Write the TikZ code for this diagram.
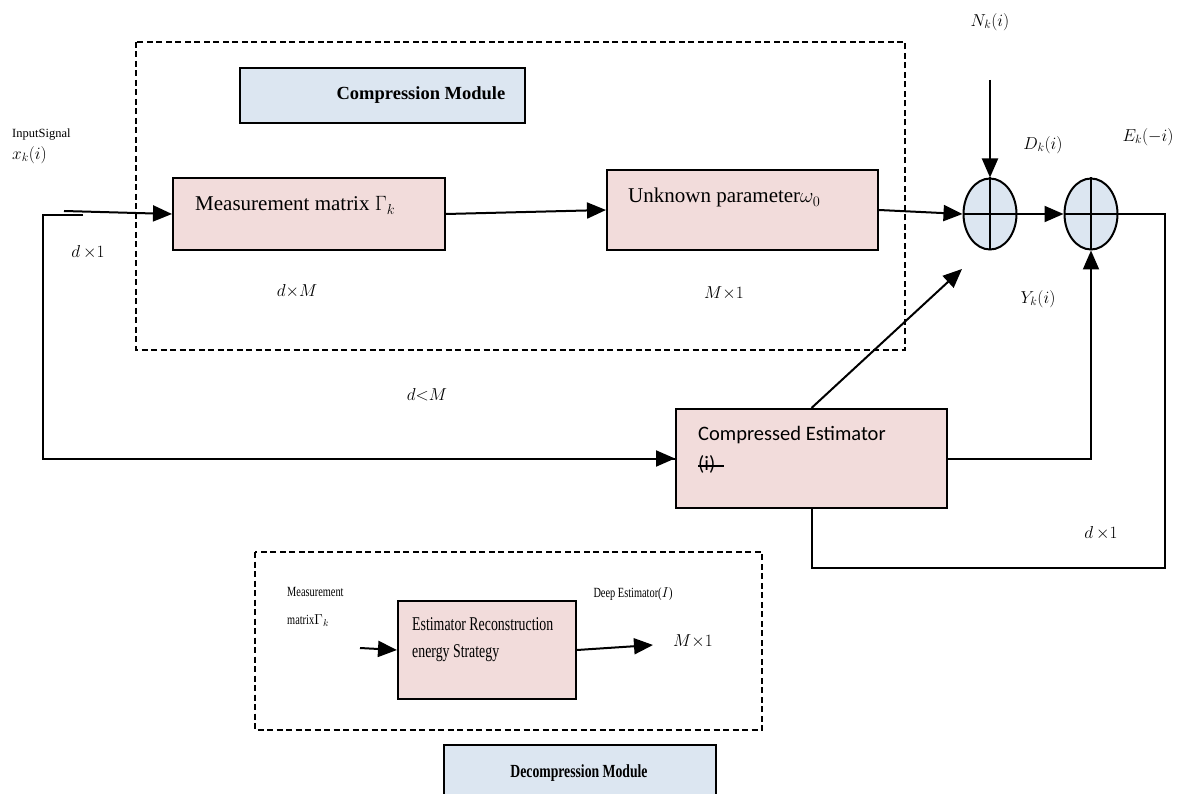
\documentclass[tikz,border=0pt]{standalone}
\usepackage{fontspec}
\setmainfont{Liberation Serif}
\newfontfamily\calibri{Carlito}
\newfontfamily\narrow[FakeStretch=0.78]{Liberation Serif}
\newfontfamily\narrowB[FakeStretch=0.71]{Liberation Serif}
\newfontfamily\narrowC[FakeStretch=0.74]{Liberation Serif}
\usetikzlibrary{arrows.meta,shapes.geometric}
\definecolor{pinkfill}{HTML}{F2DCDB}
\definecolor{bluefill}{HTML}{DCE6F1}
\tikzset{
  blockbox/.style={draw, line width=2pt, fill=pinkfill, inner sep=0pt},
  titlebox/.style={draw, line width=2pt, fill=bluefill, inner sep=0pt},
  summer/.style={draw, ellipse, line width=2pt, fill=bluefill, minimum width=53pt, minimum height=71pt, inner sep=0pt},
  modulebox/.style={draw, line width=1.8pt, dash pattern=on 6pt off 3.5pt},
  conn/.style={line width=2pt},
  arr/.style={line width=2pt, -{Triangle[length=19pt,width=16pt]}},
  lbl/.style={inner sep=0pt, font=\fontsize{16.5}{18}\selectfont},
  txt/.style={inner sep=0pt, anchor=base west}
}
\begin{document}
\begin{tikzpicture}[x=1pt,y=-1pt]
\useasboundingbox (0,0) rectangle (1179,794);
% module frames
\draw[modulebox] (136,42) rectangle (905,350);
\draw[modulebox] (255,552) rectangle (762,730);
% title boxes
\node[titlebox, minimum width=285pt, minimum height=55pt] (cmbox) at (382.5,95.5) {};
\node[txt, anchor=base, font=\fontsize{18.5}{20}\selectfont\bfseries] (cmtxt) at (421,100) {Compression Module};
\begin{scope}
\clip (0,0) rectangle (1179,794);
\node[titlebox, minimum width=272pt, minimum height=70pt] (dmbox) at (580,780) {};
\end{scope}
\node[txt, anchor=base, font=\fontsize{18.5}{20}\narrowC\bfseries] (dmtxt) at (579,777) {Decompression Module};
% blocks
\node[blockbox, minimum width=272pt, minimum height=72pt] (mm) at (309,214) {};
\node[txt, font=\fontsize{21}{24}\selectfont] (mmtxt) at (195,211) {Measurement matrix $\Gamma_{k}$};
\node[blockbox, minimum width=271pt, minimum height=80pt] (up) at (742.5,210) {};
\node[txt, font=\fontsize{21}{24}\selectfont] (uptxt) at (628,203) {Unknown parameter$\omega_{0}$};
\node[blockbox, minimum width=271pt, minimum height=99pt] (ce) at (811.5,458.5) {};
\node[txt, font=\fontsize{20.5}{24}\calibri] (cetxt) at (698,440) {Compressed Estimator};
\node[txt, font=\fontsize{20.5}{24}\calibri] (ceitxt) at (698,471) {(i)};
\draw[line width=1.3pt] (ceitxt.west |- 0,466) -- ++(26,0);
\node[blockbox, minimum width=178pt, minimum height=98pt] (er) at (487,650) {};
\node[txt, font=\fontsize{19.5}{24}\narrowB] (ertxt1) at (412,630) {Estimator Reconstruction};
\node[txt, font=\fontsize{19.5}{24}\narrowB] (ertxt2) at (412,657) {energy Strategy};
% summing junctions
\node[summer] (s1) at (990,214) {};
\node[summer] (s2) at (1091,214) {};
\draw[conn] (s1.north) -- (s1.south) (s1.west) -- (s1.east);
\draw[conn] (s2.north) -- (s2.south) (s2.west) -- (s2.east);
% coordinates
\coordinate (inA) at (64,211);
\coordinate (inB) at (83,215);
\coordinate (inC) at (43,215);
\coordinate (ntop) at (990,80);
\coordinate (diagtip) at (962,269);
\coordinate (rc) at (1165,568);
\coordinate (erin) at (360,648);
\coordinate (erout) at (653,645);
% connectors
\draw[arr] (inA) -- (mm.west);
\draw[conn] (inB) -- (inC) |- (ce.west);
\draw[arr] (inC |- ce.west) -- (ce.west);
\draw[arr] (mm.east) -- (up.west);
\draw[arr] (up.east) -- (s1.west);
\draw[arr] (ntop) -- (s1.north);
\draw[arr] (s1.east) -- (s2.west);
\draw[arr] (ce.north) -- (diagtip);
\draw[arr] (ce.east) -| (s2.south);
\draw[conn] (s2.east) -| (rc) -| (ce.south);
\draw[arr] (erin) -- (er.west);
\draw[arr] (er.east) -- (erout);
% labels
\node[txt, anchor=base west, font=\fontsize{12.5}{14}\selectfont] (insig) at (12,138) {InputSignal};
\node[lbl, anchor=west] (xk) at (12,155) {$x_{k}(i)$};
\node[lbl] (dx1a) at (88,252) {$d\,{\times}1$};
\node[lbl] (dxm) at (297,291) {$d{\times}M$};
\node[lbl] (mx1a) at (724,293) {$M{\times}1$};
\node[lbl] (dlm) at (427,395) {$d{<}M$};
\node[lbl] (nk) at (990,22) {$N_{k}(i)$};
\node[lbl] (dk) at (1043,145) {$D_{k}(i)$};
\node[lbl] (ek) at (1148,137) {$E_{k}(-i)$};
\node[lbl] (yk) at (1038,299) {$Y_{k}(i)$};
\node[lbl] (dx1b) at (1101,533) {$d\,{\times}1$};
\node[txt, font=\fontsize{14}{16}\narrowC] (meas1) at (287,596) {Measurement};
\node[txt, font=\fontsize{14}{16}\narrowC] (meas2) at (287,624) {matrix$\Gamma_{k}$};
\node[txt, anchor=base, font=\fontsize{14}{16}\narrowC] (deep) at (633,597) {Deep Estimator($I$)};
\node[lbl] (mx1b) at (693,641) {$M{\times}1$};
\end{tikzpicture}
\end{document}
